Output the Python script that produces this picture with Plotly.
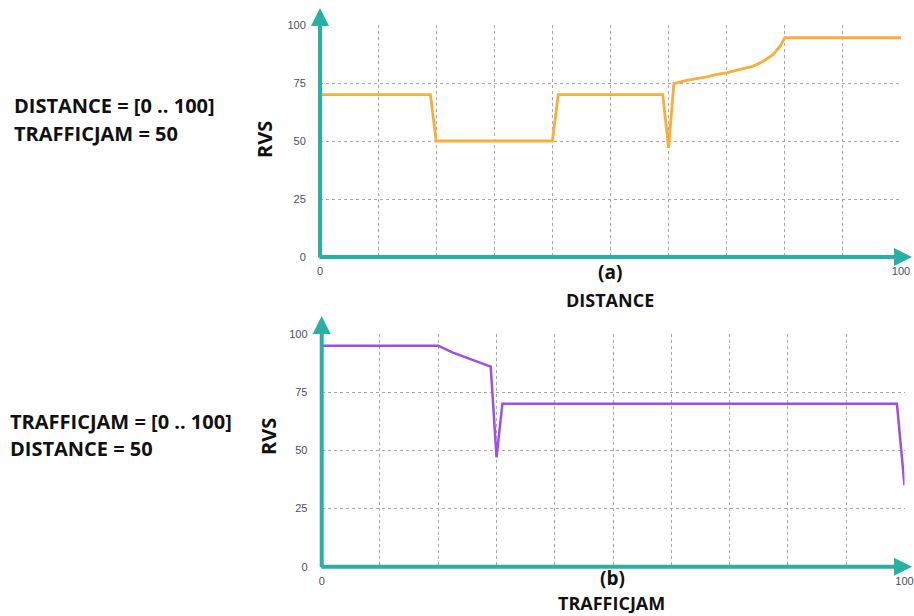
import plotly.graph_objects as go

# ---- data ----
distance_x = [0, 19, 20, 40, 41, 59, 60, 60.9, 63.1, 66.6, 68.3, 70.0, 72.3, 74.6, 76.3, 78.0, 79.2, 80.0, 100]
distance_rvs = [70, 70, 50, 50, 70, 70, 47, 74.7, 76.1, 77.6, 78.7, 79.4, 80.9, 82.3, 84.4, 87.3, 90.9, 94.5, 94.5]

traffic_x = [0, 20, 22.5, 29, 30, 31, 98.7, 100]
traffic_rvs = [95, 95, 92, 86, 47, 70, 70, 35]

x_ticks = [0, 10, 20, 30, 40, 50, 60, 70, 80, 90, 100]
x_tick_text = ["0", "", "", "", "", "", "", "", "", "", "100"]
y_ticks = [0, 25, 50, 75, 100]

W, H = 914, 616
TEAL = "#27B0A3"
ORANGE = "#F9AE3A"
PURPLE = "#9A50E3"
GRID = "#A8A8A8"
TICKC = "#4E4E60"

fig = go.Figure()
fig.add_trace(go.Scatter(x=distance_x, y=distance_rvs, mode="lines",
                         line=dict(color=ORANGE, width=2.8), xaxis="x", yaxis="y",
                         showlegend=False))
fig.add_trace(go.Scatter(x=traffic_x, y=traffic_rvs, mode="lines",
                         line=dict(color=PURPLE, width=2.5), xaxis="x2", yaxis="y2",
                         showlegend=False))

def xax(domain, anchor):
    return dict(domain=domain, anchor=anchor, range=[0, 100], tickvals=x_ticks,
                ticktext=x_tick_text, showgrid=True, gridcolor=GRID, griddash="3px,3px",
                gridwidth=1, zeroline=False, showline=False, ticks="outside", ticklen=4,
                tickcolor="rgba(0,0,0,0)", automargin=False,
                tickfont=dict(family="Liberation Sans", size=11, color=TICKC),
                fixedrange=True)

def yax(domain, anchor):
    return dict(domain=domain, anchor=anchor, range=[0, 100], tickvals=y_ticks,
                showgrid=True, gridcolor=GRID, griddash="3px,3px", gridwidth=1,
                zeroline=False, showline=False, ticks="outside", ticklen=11,
                tickcolor="rgba(0,0,0,0)", automargin=False,
                tickfont=dict(family="Liberation Sans", size=11, color=TICKC),
                fixedrange=True)

def px(x):
    return x / W

def py(y):
    return 1 - y / H

fig.update_layout(
    template="none",
    width=W, height=H, margin=dict(l=0, r=0, t=0, b=0, autoexpand=False),
    paper_bgcolor="white", plot_bgcolor="white",
    xaxis=xax([px(320), px(901)], "y"),
    yaxis=yax([py(257), py(25)], "x"),
    xaxis2=xax([px(321.7), px(904.5)], "y2"),
    yaxis2=yax([py(566.7), py(334)], "x2"),
)

anns = []

def arrow(x0, y0, x1, y1):
    anns.append(dict(x=px(x1), y=py(y1), xref="paper", yref="paper",
                     ax=x0 - x1, ay=y0 - y1, axref="pixel", ayref="pixel",
                     text="", showarrow=True, arrowhead=2, arrowsize=0.9,
                     arrowwidth=4, arrowcolor=TEAL))

# teal axis arrows
arrow(320, 259, 320, 8)
arrow(318, 257, 912, 257)
arrow(321.7, 568.7, 321.7, 316)
arrow(319.7, 566.7, 912, 566.7)

def text(x, y, s, size, xanchor="center", angle=0):
    anns.append(dict(x=px(x), y=py(y), xref="paper", yref="paper", text=s,
                     showarrow=False, xanchor=xanchor, yanchor="middle", textangle=angle,
                     font=dict(family="Open Sans", size=size, color="#111111")))

text(12, 106, "<b>DISTANCE = [0 .. 100]</b>", 20, "left")
text(12, 134, "<b>TRAFFICJAM = 50</b>", 20, "left")
text(8, 421, "<b>TRAFFICJAM = [0 .. 100]</b>", 20, "left")
text(8, 448, "<b>DISTANCE = 50</b>", 20, "left")
text(264, 140, "<b>RVS</b>", 20, angle=-90)
text(268, 437, "<b>RVS</b>", 20, angle=-90)
text(610, 272, "<b>(a)</b>", 19)
text(610, 300, "<b>DISTANCE</b>", 18)
text(612, 578, "<b>(b)</b>", 19)
text(611, 603, "<b>TRAFFICJAM</b>", 18)

fig.update_layout(annotations=anns)
fig.write_html("out.html", config={"displayModeBar": False},
               post_script="document.body.style.margin='0';document.body.style.overflow='hidden';")
